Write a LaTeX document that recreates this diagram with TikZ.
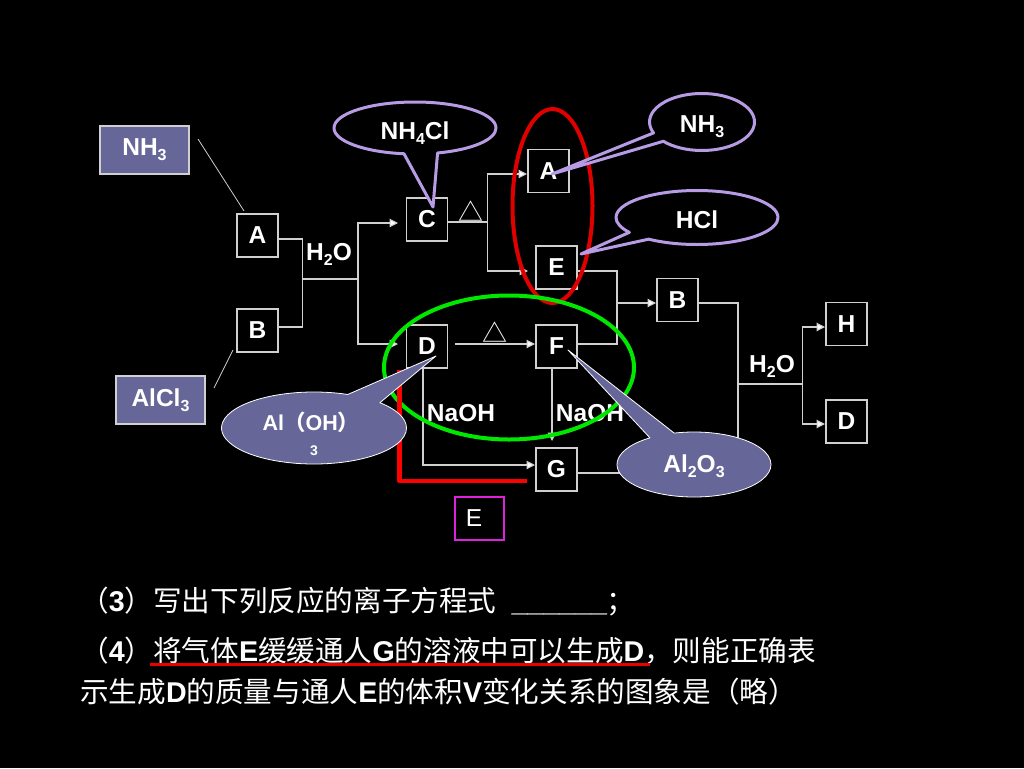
\documentclass[tikz,border=0pt]{standalone}
\usepackage{fontspec}
\setmainfont{Liberation Sans}
\newfontfamily\cjk{Noto Sans CJK SC}
\usetikzlibrary{arrows.meta,shapes.geometric,shapes.callouts}
\newcommand{\ssub}[1]{\raisebox{-5pt}{\fontsize{16}{16}\selectfont #1}}
\newcommand{\lat}[1]{{\rmfamily\bfseries #1}}
\newcommand{\drop}[2]{\raisebox{-#1pt}[0pt][0pt]{#2}}
\definecolor{indigo}{HTML}{666699}
\definecolor{lilac}{HTML}{B79BE4}
\definecolor{wirecol}{HTML}{D0D0D0}
\definecolor{magHue}{HTML}{DD22DD}
\definecolor{ringRed}{HTML}{E00000}
\definecolor{ringGreen}{HTML}{00E800}
\tikzset{
	lbl/.style = {text = white, inner sep = 0, font = \fontsize{24.5}{26}\selectfont\bfseries},
	box/.style = {lbl, draw = wirecol, line width = 1.1pt, minimum width = 41, minimum height = 43},
	srcbox/.style = {lbl, draw = wirecol, fill = indigo, line width = 1.1pt, minimum width = 89, minimum height = 48},
	wire/.style = {draw = wirecol, line width = 1.1pt},
	ring/.style = {ellipse, draw, line width = 4pt, inner sep = 0},
	bubble/.style = {lbl, ellipse callout, draw = lilac, fill = black, line width = 3pt, line join = round},
	solidbubble/.style = {lbl, ellipse callout, draw = white, fill = indigo, line width = 0.8pt, line join = round},
	line/.style = {text = white, inner sep = 0, anchor = base west, font = \cjk\fontsize{28.6}{30}\selectfont},
	>={Triangle[length = 8.5pt, width = 8.5pt, fill = white]}
}
\begin{document}
\begin{tikzpicture}[x = 1pt, y = -1pt]
	 \useasboundingbox (0, 0) rectangle (1024, 768);
	 \fill[black] (0, 0) rectangle (1024, 768);
	 
	 \node[srcbox] (srcN) at (144.5, 150) {NH\ssub{3}};
	 \node[srcbox] (srcAl) at (160.5, 400) {AlCl\ssub{3}};
	 \node[box] (boxA) at (257.5, 235.5) {A};
	 \node[box] (boxB) at (257.5, 330.5) {B};
	 \node[box] (boxC) at (427, 219.5) {C};
	 \node[box] (boxD) at (427, 346.5) {D};
	 \node[box] (topA) at (548.5, 171) {A};
	 \node[box] (boxE) at (556.5, 267.5) {E};
	 \node[box] (boxF) at (556.5, 346.5) {F};
	 \node[box] (boxG) at (556.5, 469.5) {G};
	 \node[box] (endB) at (677.5, 300) {B};
	 \node[box] (boxH) at (846.5, 324) {H};
	 \node[box] (endD) at (846.5, 421.5) {D};
	 \node[draw = magHue, line width = 1.5pt, text = white, inner sep = 0, minimum width = 49, minimum height = 43, font = \fontsize{24.5}{26}\selectfont] (boxGas) at (479.5, 518.5) {E\hspace*{11pt}};
	 
	 \coordinate (jab) at (302.5, 279);
	 \coordinate (jcd) at (358, 279);
	 \coordinate (cin) at (398, 223);
	 \coordinate (din) at (398, 344);
	 \coordinate (jc) at (487.5, 222);
	 \coordinate (ain) at (527, 174);
	 \coordinate (ein) at (528, 271);
	 \coordinate (dout) at (455, 344);
	 \coordinate (fin) at (535, 344);
	 \coordinate (jef) at (617, 303);
	 \coordinate (bin) at (656, 303);
	 \coordinate (jbg) at (738, 384);
	 \coordinate (jhd) at (802.5, 384);
	 \coordinate (hin) at (825, 327);
	 \coordinate (din2) at (825, 424);
	 \coordinate (gin) at (535, 465);
	 \coordinate (gtop) at (552, 441);
	 \coordinate (nout) at (198, 139);
	 \coordinate (nend) at (244, 211);
	 \coordinate (alout) at (214, 388);
	 \coordinate (alend) at (233, 350);
	 
	 \draw[wirecol, line width = 0.8pt] (nout) -- (nend);
	 \draw[wirecol, line width = 0.8pt] (alout) -- (alend);
	 \draw[wire] ([yshift = -3.5pt]boxA.east) -| (jab);
	 \draw[wire] ([yshift = 3.5pt]boxB.east) -| (jab);
	 \draw[wire] (jab) -- (jcd);
	 \draw[wire, ->] (jcd) |- (cin);
	 \draw[wire, ->] (jcd) |- (din);
	 \draw[wire] ([yshift = -2.5pt]boxC.east) -- (jc);
	 \draw[wire, ->] (jc) |- (ain);
	 \draw[wire, ->] (jc) |- (ein);
	 \draw[wire, ->] (dout) -- (fin);
	 \draw[wire] ([yshift = -3.5pt]boxE.east) -| (jef);
	 \draw[wire] ([yshift = 2.5pt]boxF.east) -| (jef);
	 \draw[wire, ->] (jef) -- (bin);
	 \draw[wire] ([yshift = -3pt]endB.east) -| (jbg);
	 \draw[wire] ([yshift = -3.5pt]boxG.east) -| (jbg);
	 \draw[wire] (jbg) -- (jhd);
	 \draw[wire, ->] (jhd) |- (hin);
	 \draw[wire, ->] (jhd) |- (din2);
	 \draw[wire, ->] (boxD.south -| 423, 0) |- (gin);
	 \draw[wire, ->] (boxF.south -| 552, 0) -- (gtop);
	 
	 \node[lbl] (waterL) at (329, 254) {H\ssub{2}O};
	 \node[lbl] (waterR) at (772, 366) {H\ssub{2}O};
	 \node[lbl] (baseL) at (461, 413) {NaOH};
	 \node[lbl] (baseR) at (590, 413) {NaOH};
	 \node[text = white, inner sep = 0, font = \cjk\fontsize{25}{26}\selectfont] (heatL) at (471, 211) {△};
	 \node[text = white, inner sep = 0, font = \cjk\fontsize{25}{26}\selectfont] (heatR) at (494.5, 332) {△};
	 
	 \node[ring, draw = ringRed, minimum width = 80, minimum height = 194] (ringAE) at (552.5, 206) {};
	 \node[ring, draw = ringGreen, minimum width = 250, minimum height = 144] (ringDF) at (509, 367.5) {};
	 \coordinate (redTop) at (399.5, 370);
	 \coordinate (redCorner) at (399.5, 481);
	 \coordinate (redEnd) at (527, 481);
	 \draw[red, line width = 4.4pt, line join = round] (redTop) -- (redCorner) -- (redEnd);
	 
	 \node[bubble, minimum width = 162, minimum height = 52, callout absolute pointer = {(433, 207)}, callout pointer arc = 24] (saltB) at (415, 128) {\drop{11}{NH\ssub{4}Cl}};
	 \node[bubble, minimum width = 105, minimum height = 57, callout absolute pointer = {(552, 174)}, callout pointer arc = 20] (nhB) at (702, 122) {\drop{10}{NH\ssub{3}}};
	 \node[bubble, minimum width = 162, minimum height = 54, callout absolute pointer = {(581, 254)}, callout pointer arc = 20] (hclB) at (697, 217.5) {\drop{10.5}{HCl}};
	 \node[solidbubble, minimum width = 185, minimum height = 72, callout absolute pointer = {(436, 356)}, callout pointer arc = 24] (hydB) at (314, 428) {};
	 \node[lbl, anchor = base, font = \fontsize{21.5}{24}\selectfont\bfseries] (hydT) at (311, 430) {Al{\cjk（}OH{\cjk）}};
	 \node[lbl, anchor = base, font = \fontsize{14}{16}\selectfont\bfseries] (hydS) at (314, 455) {3};
	 \node[solidbubble, minimum width = 154, minimum height = 65, callout absolute pointer = {(568, 350)}, callout pointer arc = 20] (oxB) at (694, 464.5) {\drop{7.5}{Al\ssub{2}O\ssub{3}}};
	 
	 \node[line] (qThree) at (80, 611) {（\lat{3}）写出下列反应的离子方程式\hspace{15pt}\lat{\_\_\_\_\_\_}；};
	 \node[line] (qFour) at (80, 661) {（\lat{4}）将气体\lat{E}缓缓通人\lat{G}的溶液中可以生成\lat{D}，则能正确表};
	 \node[line] (qFive) at (80, 702) {示生成\lat{D}的质量与通人\lat{E}的体积\lat{V}变化关系的图象是（略）};
	 \coordinate (ulStart) at (150, 664.5);
	 \coordinate (ulEnd) at (650, 664.5);
	 \draw[red!92!black, line width = 2.5pt] (ulStart) -- (ulEnd);
\end{tikzpicture}
\end{document}
